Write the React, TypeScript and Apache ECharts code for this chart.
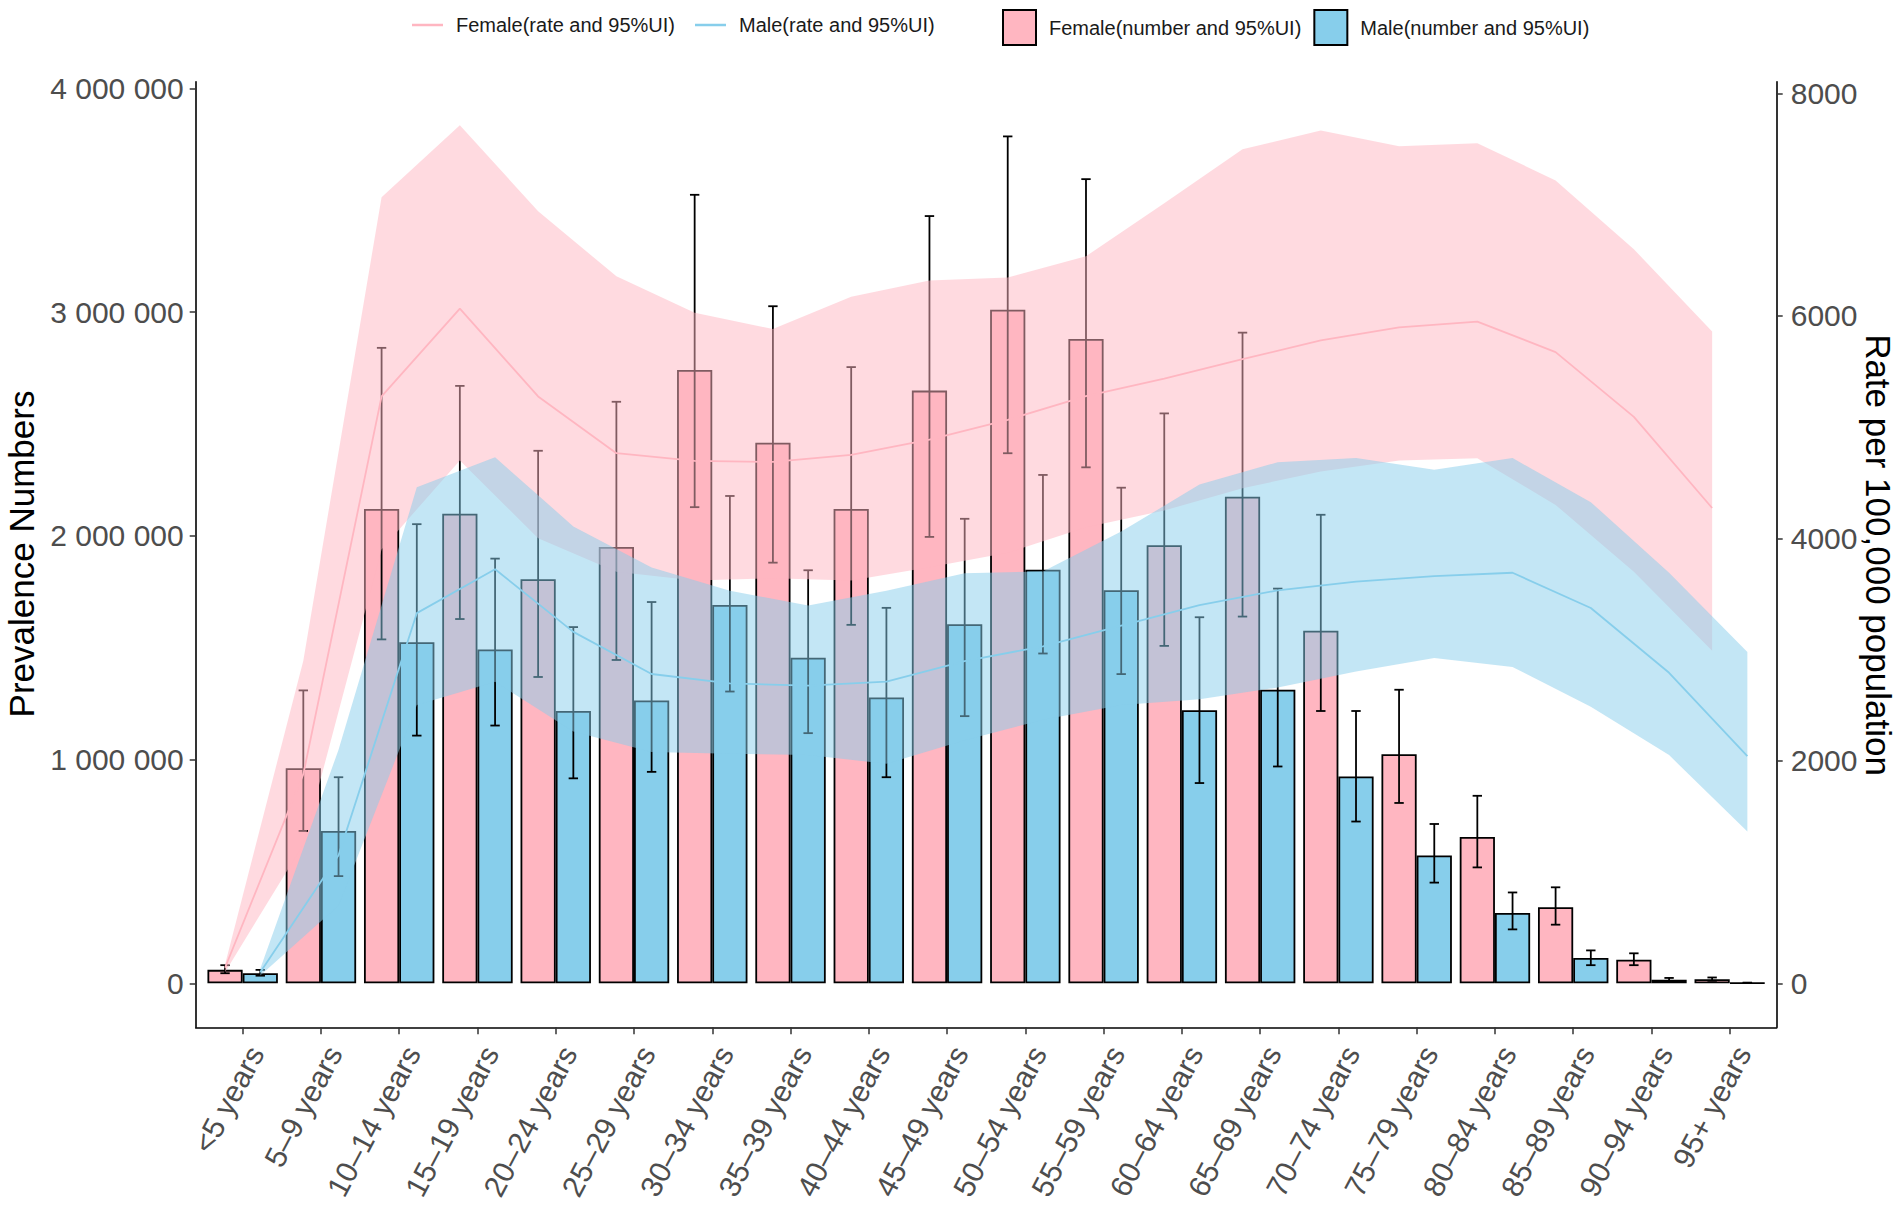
import React, { useEffect, useRef } from "react";
import * as echarts from "echarts";

const categories = [
  "<5 years", "5–9 years", "10–14 years", "15–19 years", "20–24 years",
  "25–29 years", "30–34 years", "35–39 years", "40–44 years", "45–49 years",
  "50–54 years", "55–59 years", "60–64 years", "65–69 years", "70–74 years",
  "75–79 years", "80–84 years", "85–89 years", "90–94 years", "95+ years",
];

const femaleNumber = [60000, 961000, 2120000, 2099000, 1806000, 1950000, 2741000, 2416000, 2120000, 2649000, 3010000, 2880000, 1958000, 2175000, 1576000, 1024000, 654000, 340000, 105000, 18000];
const femaleNumberLow = [45000, 681000, 1537000, 1628000, 1369000, 1445000, 2128000, 1880000, 1602000, 1995000, 2369000, 2306000, 1508000, 1639000, 1217000, 806000, 518000, 262000, 81000, 11000];
const femaleNumberHigh = [81000, 1309000, 2840000, 2670000, 2380000, 2599000, 3524000, 3026000, 2754000, 3429000, 3785000, 3594000, 2547000, 2908000, 2094000, 1312000, 838000, 429000, 134000, 26000];

const maleNumber = [45000, 681000, 1524000, 1492000, 1217000, 1264000, 1691000, 1455000, 1277000, 1605000, 1848000, 1757000, 1220000, 1312000, 924000, 571000, 314000, 113000, 16000, 2000];
const maleNumberLow = [34000, 479000, 1107000, 1152000, 916000, 945000, 1304000, 1118000, 921000, 1194000, 1474000, 1382000, 895000, 969000, 723000, 450000, 241000, 81000, 8000, 1000];
const maleNumberHigh = [60000, 921000, 2052000, 1898000, 1592000, 1704000, 2178000, 1846000, 1678000, 2076000, 2272000, 2215000, 1636000, 1764000, 1217000, 712000, 406000, 147000, 24000, 3000];

const femaleRate = [140, 1880, 5275, 6065, 5275, 4765, 4696, 4686, 4749, 4886, 5065, 5277, 5435, 5610, 5779, 5895, 5948, 5673, 5091, 4272];
const femaleRateLow = [100, 1250, 3900, 4700, 4000, 3700, 3620, 3640, 3620, 3740, 3870, 4100, 4250, 4450, 4600, 4700, 4720, 4300, 3700, 2990];
const femaleRateHigh = [170, 2900, 7066, 7713, 6939, 6355, 6028, 5881, 6170, 6318, 6344, 6535, 7011, 7497, 7666, 7523, 7550, 7217, 6598, 5858];

const maleRate = [100, 1150, 3327, 3722, 3159, 2780, 2696, 2675, 2711, 2896, 3029, 3214, 3400, 3532, 3611, 3660, 3690, 3373, 2791, 2041];
const maleRateLow = [70, 700, 2501, 2711, 2264, 2080, 2064, 2053, 1974, 2185, 2369, 2501, 2554, 2659, 2802, 2924, 2844, 2485, 2051, 1364];
const maleRateHigh = [130, 2100, 4459, 4728, 4107, 3738, 3528, 3396, 3528, 3686, 3701, 4060, 4483, 4684, 4721, 4616, 4721, 4325, 3690, 2977];

const numberTicks = [0, 1000000, 2000000, 3000000, 4000000];
const rateTicks = [0, 2000, 4000, 6000, 8000];

const FONT = "'Liberation Sans', Arial, Helvetica, sans-serif";
const PINK = "#FFB6C1";
const BLUE = "#87CEEB";
const PINK_FILL = "rgba(255,182,193,0.5)";
const BLUE_FILL = "rgba(135,206,235,0.5)";
const DODGE = 0.225;

const fmtSpace = (v: number) => String(Math.round(v)).replace(/\B(?=(\d{3})+(?!\d))/g, " ");

function ribbonSeries(xs: number[], lo: number[], hi: number[], fill: string) {
  return {
    type: "custom",
    xAxisIndex: 0,
    yAxisIndex: 1,
    z: 3,
    silent: true,
    data: [[xs[0], lo[0]]],
    renderItem: (_params: any, api: any) => {
      const pts: number[][] = [];
      for (let i = 0; i < xs.length; i++) pts.push(api.coord([xs[i], hi[i]]));
      for (let i = xs.length - 1; i >= 0; i--) pts.push(api.coord([xs[i], lo[i]]));
      return { type: "polygon", shape: { points: pts }, style: { fill, stroke: "none" } };
    },
  };
}

function errorSeries(xs: number[], lo: number[], hi: number[]) {
  return {
    type: "custom",
    xAxisIndex: 0,
    yAxisIndex: 0,
    z: 2,
    silent: true,
    data: xs.map((x, i) => [x, lo[i], hi[i]]),
    encode: { x: 0, y: [1, 2] },
    renderItem: (_params: any, api: any) => {
      const x = api.value(0);
      const pl = api.coord([x, api.value(1)]);
      const ph = api.coord([x, api.value(2)]);
      const half = api.size([0.12, 0])[0] / 2;
      const style = { stroke: "#000", lineWidth: 1.8, fill: "none" };
      return {
        type: "group",
        children: [
          { type: "line", shape: { x1: pl[0], y1: ph[1], x2: pl[0], y2: pl[1] }, style },
          { type: "line", shape: { x1: pl[0] - half, y1: ph[1], x2: pl[0] + half, y2: ph[1] }, style },
          { type: "line", shape: { x1: pl[0] - half, y1: pl[1], x2: pl[0] + half, y2: pl[1] }, style },
        ],
      };
    },
  };
}

export default function App() {
  const ref = useRef<HTMLDivElement>(null);
  useEffect(() => {
    if (!ref.current) return;
    const chart = echarts.init(ref.current, null, { renderer: "svg" });
    const fx = categories.map((_, i) => i - DODGE);
    const mx = categories.map((_, i) => i + DODGE);
    const catTicks = categories.map((_, i) => i);
    const axisLineStyle = { color: "#000", width: 1.6 };
    const tickStyle = { color: "#333", width: 1.5 };
    const labelBase = { fontSize: 30, color: "#4D4D4D", fontFamily: FONT };

    const option: any = {
      animation: false,
      textStyle: { fontFamily: FONT },
      grid: { left: 195.7, right: 1902 - 1776.7, top: 81.7, bottom: 1209 - 1027.3 },
      legend: [
        {
          data: ["Female(rate and 95%UI)", "Male(rate and 95%UI)"],
          left: 407,
          top: 10,
          icon: "rect",
          itemWidth: 31,
          itemHeight: 2.5,
          itemGap: 20,
          selectedMode: false,
          textStyle: { fontSize: 20, color: "#1a1a1a", fontFamily: FONT, padding: [0, 0, 0, 8] },
        },
        {
          data: ["Female(number and 95%UI)", "Male(number and 95%UI)"],
          left: 997,
          top: 4,
          icon: "rect",
          itemWidth: 33,
          itemHeight: 35,
          itemGap: 12,
          selectedMode: false,
          textStyle: { fontSize: 20, color: "#1a1a1a", fontFamily: FONT, padding: [0, 0, 0, 8] },
        },
      ],
      xAxis: [
        {
          type: "value",
          min: -0.6,
          max: 19.6,
          position: "bottom",
          axisLine: { show: true, onZero: false, lineStyle: axisLineStyle },
          axisTick: { show: true, customValues: catTicks, length: 7, lineStyle: tickStyle },
          axisLabel: {
            ...labelBase,
            customValues: catTicks,
            formatter: (v: number) => categories[Math.round(v)] ?? "",
            rotate: 62,
            margin: 14,
            verticalAlign: "top",
          },
          splitLine: { show: false },
        },
      ],
      yAxis: [
        {
          type: "value",
          min: -196650,
          max: 4029500,
          position: "left",
          axisLine: { show: true, onZero: false, lineStyle: axisLineStyle },
          axisTick: { show: true, customValues: numberTicks, length: 6, lineStyle: tickStyle },
          axisLabel: { ...labelBase, customValues: numberTicks, formatter: (v: number) => fmtSpace(v), margin: 12 },
          splitLine: { show: false },
        },
        {
          type: "value",
          min: -395.5,
          max: 8104,
          position: "right",
          axisLine: { show: true, onZero: false, lineStyle: axisLineStyle },
          axisTick: { show: true, customValues: rateTicks, length: 6, lineStyle: tickStyle },
          axisLabel: { ...labelBase, customValues: rateTicks, formatter: (v: number) => String(v), margin: 14 },
          splitLine: { show: false },
        },
      ],
      graphic: [
        {
          type: "text",
          x: 21,
          y: 554,
          rotation: Math.PI / 2,
          style: { text: "Prevalence Numbers", font: `35px ${FONT}`, fill: "#000", textAlign: "center", textVerticalAlign: "middle" },
        },
        {
          type: "text",
          x: 1878,
          y: 555,
          rotation: -Math.PI / 2,
          style: { text: "Rate per 100,000 population", font: `35px ${FONT}`, fill: "#000", textAlign: "center", textVerticalAlign: "middle" },
        },
      ],
      series: [
        {
          type: "bar",
          name: "Female(number and 95%UI)",
          xAxisIndex: 0,
          yAxisIndex: 0,
          data: fx.map((x, i) => [x, femaleNumber[i]]),
          barWidth: 35.2,
          barGap: "-100%",
          z: 1,
          itemStyle: { color: PINK, borderColor: "#000", borderWidth: 1.8 },
        },
        {
          type: "bar",
          name: "Male(number and 95%UI)",
          xAxisIndex: 0,
          yAxisIndex: 0,
          data: mx.map((x, i) => [x, maleNumber[i]]),
          barWidth: 35.2,
          barGap: "-100%",
          z: 1,
          itemStyle: { color: BLUE, borderColor: "#000", borderWidth: 1.8 },
        },
        errorSeries(fx, femaleNumberLow, femaleNumberHigh),
        errorSeries(mx, maleNumberLow, maleNumberHigh),
        ribbonSeries(fx, femaleRateLow, femaleRateHigh, PINK_FILL),
        ribbonSeries(mx, maleRateLow, maleRateHigh, BLUE_FILL),
        {
          type: "line",
          name: "Female(rate and 95%UI)",
          xAxisIndex: 0,
          yAxisIndex: 1,
          data: fx.map((x, i) => [x, femaleRate[i]]),
          symbol: "none",
          z: 4,
          lineStyle: { color: PINK, width: 1.8 },
          itemStyle: { color: PINK },
        },
        {
          type: "line",
          name: "Male(rate and 95%UI)",
          xAxisIndex: 0,
          yAxisIndex: 1,
          data: mx.map((x, i) => [x, maleRate[i]]),
          symbol: "none",
          z: 4,
          lineStyle: { color: BLUE, width: 1.8 },
          itemStyle: { color: BLUE },
        },
      ],
    };
    chart.setOption(option);
    return () => chart.dispose();
  }, []);

  return (
    <div
      ref={ref}
      style={{ position: "absolute", left: 0, top: 0, width: 1902, height: 1209, background: "#fff" }}
    />
  );
}
